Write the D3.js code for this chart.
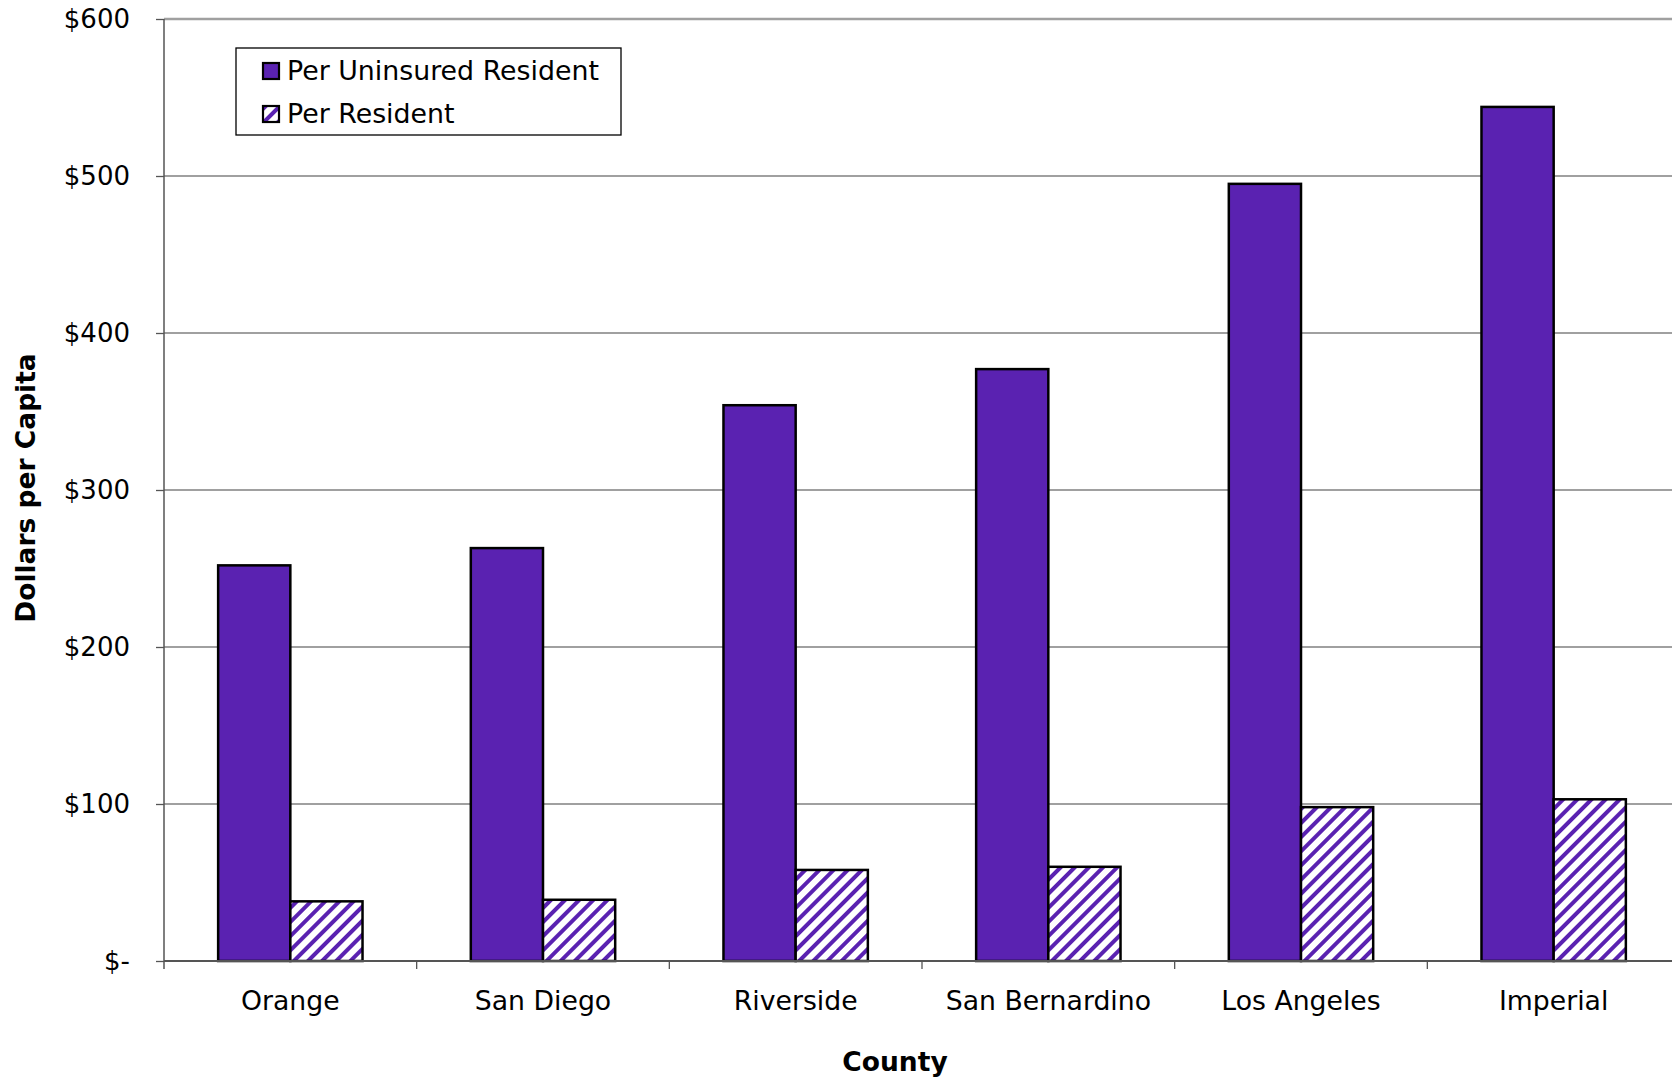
<!DOCTYPE html>
<html>
<head>
<meta charset="utf-8">
<script src="https://cdn.jsdelivr.net/npm/d3@7"></script>
<style>
    body { margin: 0; background: #fff; }
    text { font-family: "DejaVu Sans", Verdana, sans-serif; }
</style>
</head>
<body>
<svg id="chart" width="1672" height="1079"></svg>
<script>
// data
const counties = ["Orange", "San Diego", "Riverside", "San Bernardino", "Los Angeles", "Imperial"];
const perUninsured = [252, 263, 354, 377, 495, 544];
const perResident = [38, 39, 58, 60, 98, 103];
const seriesNames = ["Per Uninsured Resident", "Per Resident"];
const yTicks = [0, 100, 200, 300, 400, 500, 600];

const purple = "#5a22b1";

//frame
const frame = (function () {
    const box = {left: 164, right: 1680, top: 19, bottom: 961};

    function produce() {
        return d3.select("#chart");
    }

    return {
        box: box,
        produce: produce
    }
})();

const svg = frame.produce();
const box = frame.box;

// hatch pattern for second series
const hatchSize = 10;
const defs = svg.append("defs");
defs.append("pattern")
    .attr("id", "hatch")
    .attr("patternUnits", "userSpaceOnUse")
    .attr("width", hatchSize)
    .attr("height", hatchSize)
    .attr("patternTransform", "rotate(45)")
    .call(p => {
        p.append("rect").attr("width", hatchSize).attr("height", hatchSize).attr("fill", "#fff");
        p.append("rect").attr("x", 0).attr("width", 4).attr("height", hatchSize).attr("fill", purple);
    });

// scales
const x0 = d3.scaleBand()
    .domain(counties)
    .range([box.left, box.right])
    .paddingInner(0)
    .paddingOuter(0);

const y = d3.scaleLinear()
    .domain([0, 600])
    .range([box.bottom, box.top]);

const barW = x0.bandwidth() / 3.5;

// gridlines
svg.append("g")
    .selectAll("line")
    .data(yTicks.filter(d => d > 0))
    .enter().append("line")
    .attr("x1", box.left).attr("x2", box.right)
    .attr("y1", d => y(d)).attr("y2", d => y(d))
    .attr("stroke", d => d === 600 ? "#a0a0a0" : "#808080")
    .attr("stroke-width", d => d === 600 ? 2.5 : 1.3);

// y axis
const yAxis = d3.axisLeft(y)
    .tickValues(yTicks)
    .tickSize(8)
    .tickPadding(26)
    .tickFormat(d => d === 0 ? "$-" : "$" + d);

svg.append("g")
    .attr("transform", "translate(" + box.left + ",0)")
    .call(yAxis)
    .call(g => g.select(".domain").remove())
    .call(g => g.selectAll("line").attr("stroke", "#555").attr("stroke-width", 1.3))
    .call(g => g.selectAll("text").attr("font-size", 26).attr("fill", "#000")
        .attr("font-family", "'DejaVu Sans', Verdana, sans-serif"));

svg.append("line")
    .attr("x1", box.left).attr("x2", box.left)
    .attr("y1", box.top).attr("y2", box.bottom + 8)
    .attr("stroke", "#555").attr("stroke-width", 1.5);

// bars
const groups = svg.append("g")
    .selectAll("g")
    .data(counties)
    .enter().append("g")
    .attr("transform", d => "translate(" + (x0(d) + x0.bandwidth() / 2) + ",0)");

groups.append("rect")
    .attr("x", -barW)
    .attr("y", (d, i) => y(perUninsured[i]))
    .attr("width", barW)
    .attr("height", (d, i) => y(0) - y(perUninsured[i]))
    .attr("fill", purple)
    .attr("stroke", "#000")
    .attr("stroke-width", 2.5);

groups.append("rect")
    .attr("x", 0)
    .attr("y", (d, i) => y(perResident[i]))
    .attr("width", barW)
    .attr("height", (d, i) => y(0) - y(perResident[i]))
    .attr("fill", "url(#hatch)")
    .attr("stroke", "#000")
    .attr("stroke-width", 2.5);

// x axis
const xAxis = d3.axisBottom(x0).tickSize(0).tickPadding(30);
svg.append("g")
    .attr("transform", "translate(0," + box.bottom + ")")
    .call(xAxis)
    .call(g => g.select(".domain").remove())
    .call(g => g.selectAll("text").attr("font-size", 26.7).attr("fill", "#000")
        .attr("font-family", "'DejaVu Sans', Verdana, sans-serif"));

svg.append("line")
    .attr("x1", box.left).attr("x2", box.right)
    .attr("y1", box.bottom).attr("y2", box.bottom)
    .attr("stroke", "#555").attr("stroke-width", 2);

// boundary ticks between categories
svg.append("g")
    .selectAll("line")
    .data(counties.slice(1))
    .enter().append("line")
    .attr("x1", d => x0(d)).attr("x2", d => x0(d))
    .attr("y1", box.bottom).attr("y2", box.bottom + 8)
    .attr("stroke", "#555").attr("stroke-width", 1.3);

// axis titles
svg.append("text")
    .attr("transform", "translate(35,488) rotate(-90)")
    .attr("text-anchor", "middle")
    .attr("font-size", 26.5)
    .attr("font-weight", "bold")
    .text("Dollars per Capita");

svg.append("text")
    .attr("x", 895).attr("y", 1071)
    .attr("text-anchor", "middle")
    .attr("font-size", 26.5)
    .attr("font-weight", "bold")
    .text("County");

// legend
const legend = svg.append("g").attr("transform", "translate(236,48)");
legend.append("rect")
    .attr("width", 385).attr("height", 87)
    .attr("fill", "#fff").attr("stroke", "#000").attr("stroke-width", 1.3);

const items = legend.selectAll("g.item")
    .data(seriesNames)
    .enter().append("g")
    .attr("class", "item")
    .attr("transform", (d, i) => "translate(27," + (15 + i * 43) + ")");

items.append("rect")
    .attr("width", 16).attr("height", 16)
    .attr("fill", (d, i) => i === 0 ? purple : "url(#hatch)")
    .attr("stroke", "#000").attr("stroke-width", 2.2);

items.append("text")
    .attr("x", 24).attr("y", 8)
    .attr("dy", "0.35em")
    .attr("font-size", 26.8)
    .text(d => d);
</script>
</body>
</html>
